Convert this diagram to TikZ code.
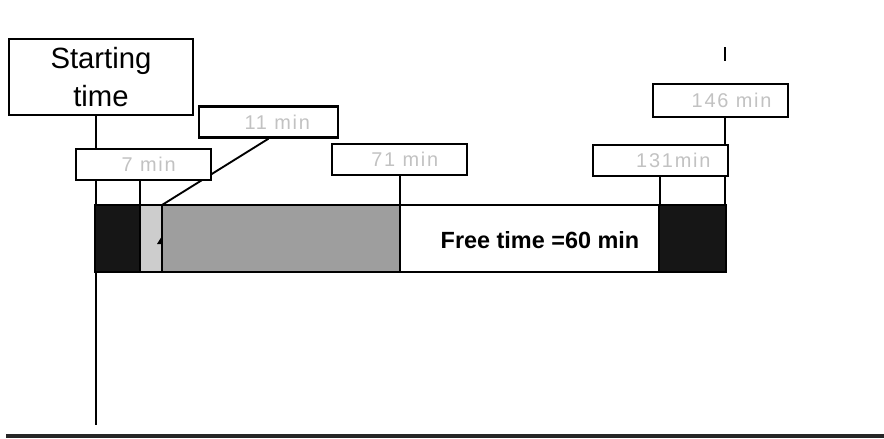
\documentclass[tikz,border=0pt]{standalone}
\usepackage{fontspec}
\setmainfont{Liberation Sans}
\newfontfamily\lblfont[LetterSpace=9]{Liberation Sans}
\usetikzlibrary{backgrounds}
\definecolor{inkgray}{HTML}{C2C2C2}
\definecolor{lightfill}{HTML}{CDCDCD}
\definecolor{darkfill}{HTML}{9E9E9E}
\definecolor{barblack}{HTML}{161616}

\begin{document}
\begin{tikzpicture}[x=0.03cm, y=-0.03cm,
  minbox/.style={draw, line width=2pt, fill=white, minimum width=4.05cm,
    minimum height=0.93cm, inner sep=0pt, text=inkgray,
    font=\lblfont\fontsize{17}{19}\selectfont},
  link/.style={line width=1.6pt}]
  \useasboundingbox (0,0) rectangle (884,438);
  % ---- time bar ----
  \fill[barblack]  (95,205)  rectangle (140,272);
  \fill[lightfill] (140,205) rectangle (162,272);
  \fill[darkfill]  (162,205) rectangle (400,272);
  \fill[barblack]  (659,205) rectangle (726,272);
  \draw[line width=1.4pt] (95,205) rectangle (726,272);
  \foreach \x in {140,162,400,659} \draw[line width=1.4pt] (\x,205) -- (\x,272);
  \fill (162,236) -- (157,244) -- (162,244) -- cycle;
  \node[font=\bfseries\fontsize{20}{22}\selectfont] (free) at (540,240) {Free time =60 min};
  % ---- marks on the bar ----
  \coordinate (base) at (96,425);
  \coordinate (t7) at (140,205);
  \coordinate (t11) at (162,205);
  \coordinate (t71) at (400,205);
  \coordinate (t131) at (660,205);
  \coordinate (t146) at (725,205);
  % ---- labels ----
  \node[draw, line width=2pt, minimum width=5.52cm, minimum height=2.28cm,
    align=center, font=\fontsize{25}{32}\selectfont] (start) at (101,77) {Starting\\time};
  \node[minbox] (m7) at (143.5,164.5) {\hspace*{9pt}7 min};
  \node[minbox, minimum width=4.17cm] (m11) at (268.5,122) {\hspace*{15pt}11 min};
  \node[minbox] (m71) at (399.5,159.5) {\hspace*{9pt}71 min};
  \node[minbox] (m131) at (660.5,160.5) {\hspace*{22pt}131min};
  \node[minbox, minimum height=0.99cm] (m146) at (720.5,100.5) {\hspace*{19pt}146 min};
  % ---- connectors ----
  \begin{scope}[on background layer]
    \draw[link] (start.south -| base) -- (base);
    \draw[link] (m7.south -| t7) -- (t7);
    \draw[link] (m11.south) -- (t11);
    \draw[link] (m71.south -| t71) -- (t71);
    \draw[link] (m131.south -| t131) -- (t131);
    \draw[link] (m146.south -| t146) -- (t146);
  \end{scope}
  \draw[line width=2.2pt] (725,47) -- (725,61);
  % ---- page rule ----
  \draw[line width=2.6pt, black!85] (6,436) -- (884,436);
\end{tikzpicture}
\end{document}
